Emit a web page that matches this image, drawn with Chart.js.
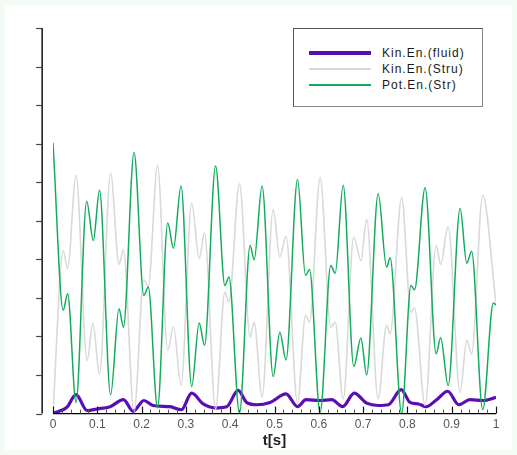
<!DOCTYPE html>
<html>
<head>
<meta charset="utf-8">
<script src="https://cdn.jsdelivr.net/npm/chart.js@4.4.1/dist/chart.umd.min.js"></script>
<style>
  html, body { margin: 0; padding: 0; background: #f4fbf4; }
  #wrap { position: relative; width: 517px; height: 455px; }
  #c { position: absolute; left: 0; top: 0; }
  #legend {
    position: absolute; left: 293px; top: 28px; width: 188px; height: 77px;
    background: #fff; border-left: 1px solid #555; border-top: 1px solid #555;
    border-right: 1px solid #888; border-bottom: 1px solid #888;
    font-family: "Liberation Sans", Arial, sans-serif; font-size: 12px; letter-spacing: 1px; color: #1a1a1a;
  }
  .row { position: absolute; left: 15px; height: 16px; width: 170px; }
  .sw { position: absolute; left: 0; width: 62px; }
  .lb { position: absolute; left: 73px; top: 0; line-height: 16px; white-space: nowrap; }
</style>
</head>
<body>
<div id="wrap">
  <canvas id="c" width="517" height="455"></canvas>
  <div id="legend"></div>
</div>
<script>
// ---- data ----
const seriesNames = ["Kin.En.(fluid)", "Kin.En.(Stru)", "Pot.En.(Str)"];

const tFluid = [0,0.031,0.052,0.077,0.099,0.129,0.159,0.181,0.205,0.226,0.264,0.290,0.313,0.339,0.366,0.392,0.418,0.437,0.460,0.490,0.526,0.552,0.571,0.603,0.629,0.654,0.680,0.708,0.734,0.757,0.786,0.806,0.825,0.842,0.866,0.891,0.916,0.941,0.971,1.0];
const vFluid = [0.01,0.16,0.49,0.08,0.12,0.18,0.36,0.06,0.34,0.21,0.18,0.10,0.53,0.25,0.15,0.18,0.60,0.29,0.23,0.29,0.51,0.18,0.36,0.34,0.36,0.18,0.53,0.27,0.21,0.23,0.62,0.29,0.25,0.18,0.36,0.58,0.23,0.36,0.34,0.42];

const tStru = [0,0.023,0.033,0.052,0.077,0.090,0.105,0.130,0.149,0.159,0.183,0.205,0.215,0.236,0.259,0.272,0.289,0.313,0.330,0.342,0.367,0.388,0.397,0.421,0.445,0.454,0.472,0.497,0.512,0.526,0.552,0.570,0.579,0.603,0.627,0.637,0.655,0.679,0.695,0.708,0.734,0.753,0.761,0.787,0.808,0.816,0.840,0.865,0.875,0.892,0.919,0.934,0.945,0.970,1.0];
const vStru = [0.05,4.23,3.76,6.18,1.38,2.35,1.02,6.24,3.87,4.25,0.05,3.47,3.30,6.44,1.64,2.26,0.73,5.46,4.02,4.68,0.12,3.15,2.89,5.96,1.98,2.37,0.42,5.29,4.06,4.60,0.27,2.55,2.37,6.12,2.24,2.37,0.38,4.58,3.97,5.03,0.38,2.29,2.07,5.60,2.63,2.74,0.21,4.36,3.87,4.86,0.55,1.90,1.55,5.66,2.85];

const tPot = [0,0.023,0.033,0.052,0.076,0.091,0.105,0.130,0.149,0.159,0.183,0.205,0.215,0.236,0.259,0.272,0.289,0.313,0.330,0.342,0.367,0.388,0.397,0.421,0.445,0.454,0.472,0.497,0.512,0.526,0.552,0.570,0.579,0.603,0.627,0.637,0.655,0.679,0.695,0.708,0.734,0.753,0.761,0.787,0.808,0.816,0.840,0.865,0.875,0.892,0.919,0.934,0.945,0.970,0.994,1.0];
const vPot = [7.02,2.68,3.11,0.29,5.51,4.49,5.79,0.49,2.72,2.24,6.77,3.06,3.28,0.15,4.94,4.29,5.90,0.70,2.35,1.77,6.42,3.32,3.54,0.01,4.36,3.99,5.90,0.96,2.11,1.39,6.07,3.58,3.74,0.03,3.84,3.64,5.92,1.22,1.96,1.01,5.70,3.80,4.04,0.01,3.32,3.21,5.86,1.55,1.97,0.73,5.32,3.90,4.21,0.10,2.87,2.81];

const xMajorTicks = [0,0.1,0.2,0.3,0.4,0.5,0.6,0.7,0.8,0.9,1];
const xTickLabels = ["0","0.1","0.2","0.3","0.4","0.5","0.6","0.7","0.8","0.9","1"];
const xMinorTicks = [0.02,0.04,0.06,0.08,0.12,0.14,0.16,0.18,0.22,0.24,0.26,0.28,0.32,0.34,0.36,0.38,0.42,0.44,0.46,0.48,0.52,0.54,0.56,0.58,0.62,0.64,0.66,0.68,0.72,0.74,0.76,0.78,0.82,0.84,0.86,0.88,0.92,0.94,0.96,0.98];
const yTicks = [0,1,2,3,4,5,6,7,8,9,10];
const xTitle = "t[s]";

const colors = ["#5a0db5", "#d9d9d9", "#12ad5c"];
const widths = [3.2, 1.6, 1.5];

function pts(t, v) { return t.map((x, i) => ({x: x, y: v[i]})); }

// ---- plugins ----
const bgPlugin = {
  id: 'bg',
  beforeDraw(chart) {
    const ctx = chart.ctx;
    ctx.save();
    ctx.fillStyle = '#f4fbf4';
    ctx.fillRect(0, 0, chart.width, chart.height);
    ctx.fillStyle = '#ffffff';
    ctx.fillRect(5, 5, chart.width - 10, chart.height - 10);
    ctx.restore();
  }
};

const axesPlugin = {
  id: 'axesDraw',
  afterDraw(chart) {
    const ctx = chart.ctx;
    const xs = chart.scales.x, ys = chart.scales.y;
    const yBottom = ys.getPixelForValue(0);
    const yTop = ys.getPixelForValue(10);
    const yAxisX = xs.getPixelForValue(-0.0245);
    ctx.save();
    // y axis line
    ctx.strokeStyle = '#000';
    ctx.lineWidth = 1.4;
    ctx.beginPath();
    ctx.moveTo(yAxisX, yTop);
    ctx.lineTo(yAxisX, yBottom);
    ctx.stroke();
    // y ticks (outward, left)
    ctx.strokeStyle = '#444';
    ctx.lineWidth = 1.2;
    yTicks.forEach(v => {
      const py = Math.round(ys.getPixelForValue(v)) + 0.5;
      ctx.beginPath();
      ctx.moveTo(yAxisX - 6, py);
      ctx.lineTo(yAxisX, py);
      ctx.stroke();
    });
    // x axis line
    ctx.strokeStyle = '#000';
    ctx.lineWidth = 1.2;
    ctx.beginPath();
    ctx.moveTo(xs.getPixelForValue(0), yBottom);
    ctx.lineTo(xs.getPixelForValue(1), yBottom);
    ctx.stroke();
    // x ticks (inward)
    ctx.lineWidth = 1.2;
    ctx.strokeStyle = '#111';
    xMajorTicks.forEach(v => {
      const px = Math.round(xs.getPixelForValue(v)) + 0.5;
      ctx.beginPath();
      ctx.moveTo(px, yBottom);
      ctx.lineTo(px, yBottom - 7);
      ctx.stroke();
    });
    ctx.strokeStyle = '#555';
    ctx.lineWidth = 1;
    xMinorTicks.forEach(v => {
      const px = Math.round(xs.getPixelForValue(v)) + 0.5;
      ctx.beginPath();
      ctx.moveTo(px, yBottom);
      ctx.lineTo(px, yBottom - 4);
      ctx.stroke();
    });
    ctx.restore();
  }
};

const ds = [
  {label: seriesNames[0], data: pts(tFluid, vFluid), borderColor: colors[0], borderWidth: widths[0], order: 3},
  {label: seriesNames[1], data: pts(tStru, vStru), borderColor: colors[1], borderWidth: widths[1], order: 2},
  {label: seriesNames[2], data: pts(tPot, vPot), borderColor: colors[2], borderWidth: widths[2], order: 1}
].map(d => Object.assign(d, {pointRadius: 0, fill: false, cubicInterpolationMode: 'monotone', borderJoinStyle: 'round'}));

new Chart(document.getElementById('c'), {
  type: 'line',
  data: { datasets: ds },
  options: {
    responsive: false,
    animation: false,
    events: [],
    layout: { padding: { left: 53, right: 21, top: 28, bottom: 0 } },
    plugins: { legend: { display: false }, tooltip: { enabled: false } },
    scales: {
      x: {
        type: 'linear', min: 0, max: 1,
        afterBuildTicks: s => { s.ticks = xMajorTicks.map(v => ({value: v})); },
        ticks: {
          color: '#555', padding: 4, maxRotation: 0, autoSkip: false,
          font: { family: '"Liberation Sans", Arial, sans-serif', size: 12 },
          callback: (v, i) => xTickLabels[i]
        },
        grid: { display: true, drawOnChartArea: false, drawTicks: false },
        border: { display: false },
        title: {
          display: true, text: xTitle, color: '#222',
          font: { family: '"Liberation Sans", Arial, sans-serif', size: 15, weight: 'bold' },
          padding: { top: -4, bottom: 5 }
        }
      },
      y: {
        type: 'linear', min: 0, max: 10, display: false
      }
    }
  },
  plugins: [bgPlugin, axesPlugin]
});

// ---- HTML legend built from the series ----
const leg = document.getElementById('legend');
const rowTops = [24, 40, 56];
const swH = [4, 2, 2];
seriesNames.forEach((n, i) => {
  const r = document.createElement('div');
  r.className = 'row';
  r.style.top = (rowTops[i] - 8) + 'px';
  const sw = document.createElement('div');
  sw.className = 'sw';
  sw.style.background = colors[i];
  sw.style.height = swH[i] + 'px';
  sw.style.top = (8 - swH[i] / 2) + 'px';
  const lb = document.createElement('div');
  lb.className = 'lb';
  lb.textContent = n;
  r.appendChild(sw); r.appendChild(lb);
  leg.appendChild(r);
});
</script>
</body>
</html>
